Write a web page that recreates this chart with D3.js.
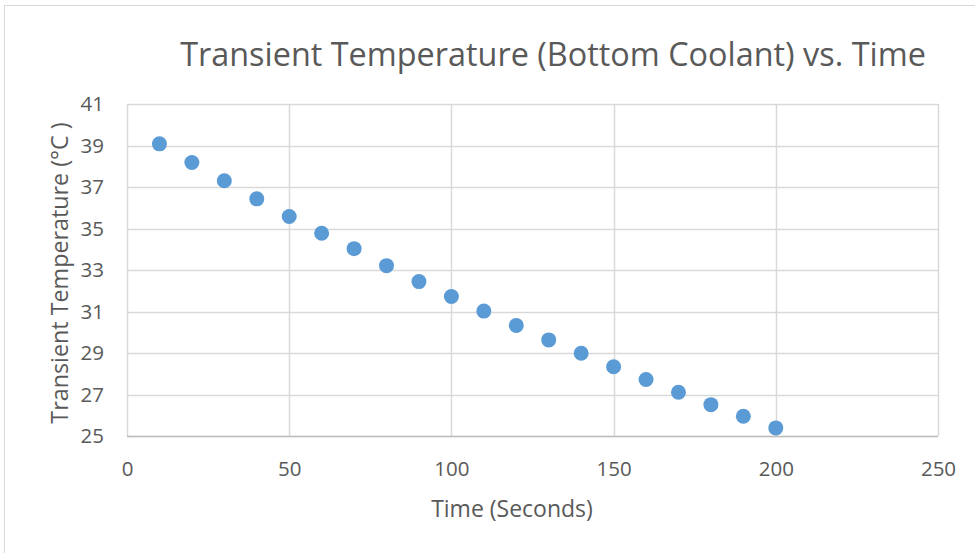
<!DOCTYPE html>
<html>
<head>
<meta charset="utf-8">
<script src="https://cdn.jsdelivr.net/npm/d3@7"></script>
<style>
  body { margin: 0; background: #fff; }
  svg text { font-family: "Open Sans", "Noto Sans", sans-serif; fill: #595959; }
</style>
</head>
<body>
<div id="chart"></div>
<script>
// time in seconds and measured temperature
var times = [10, 20, 30, 40, 50, 60, 70, 80, 90, 100, 110, 120, 130, 140, 150, 160, 170, 180, 190, 200];
var temps = [39.08, 38.18, 37.30, 36.43, 35.58, 34.77, 34.03, 33.21, 32.44, 31.72,
             31.02, 30.33, 29.63, 28.99, 28.34, 27.72, 27.11, 26.51, 25.95, 25.39];
var xTicks = [0, 50, 100, 150, 200, 250];
var yTicks = [25, 27, 29, 31, 33, 35, 37, 39, 41];

var width = 975, height = 553;
var margin = {top: 104, right: 37, bottom: 117, left: 127};

var svg = d3.select('#chart').append('svg')
  .attr('width', width)
  .attr('height', height);

// chart frame
svg.append('rect')
  .attr('x', 4.5).attr('y', 5.5)
  .attr('width', width + 10).attr('height', height + 10)
  .attr('fill', 'none').attr('stroke', '#d9d9d9');

var x = d3.scaleLinear().domain([0, 250]).range([margin.left, width - margin.right]);
var y = d3.scaleLinear().domain([25, 41]).range([height - margin.bottom, margin.top]);

// gridlines
svg.append('g')
  .selectAll('line')
  .data(yTicks)
  .enter().append('line')
    .attr('x1', x(0)).attr('x2', x(250))
    .attr('y1', function(d) { return Math.round(y(d)) + 0.5; })
    .attr('y2', function(d) { return Math.round(y(d)) + 0.5; })
    .attr('stroke', '#d9d9d9').attr('stroke-width', 1.5);

svg.append('g')
  .selectAll('line')
  .data(xTicks)
  .enter().append('line')
    .attr('y1', y(25)).attr('y2', y(41))
    .attr('x1', function(d) { return Math.round(x(d)) + 0.5; })
    .attr('x2', function(d) { return Math.round(x(d)) + 0.5; })
    .attr('stroke', '#d9d9d9').attr('stroke-width', 1.5);

// bottom axis line
svg.append('line')
  .attr('x1', x(0)).attr('x2', x(250))
  .attr('y1', Math.round(y(25)) + 0.5).attr('y2', Math.round(y(25)) + 0.5)
  .attr('stroke', '#bfbfbf').attr('stroke-width', 1.5);

// axes (labels only)
var xAxis = svg.append('g')
  .attr('transform', 'translate(0,' + y(25) + ')')
  .call(d3.axisBottom(x).tickValues(xTicks).tickSize(0).tickPadding(25));
var yAxis = svg.append('g')
  .attr('transform', 'translate(' + x(0) + ',0)')
  .call(d3.axisLeft(y).tickValues(yTicks).tickSize(0).tickPadding(23));

[xAxis, yAxis].forEach(function(a) {
  a.select('.domain').remove();
  a.selectAll('text')
    .style('font-size', '20.5px')
    .attr('fill', '#595959');
});

// points
svg.append('g')
  .selectAll('circle')
  .data(times)
  .enter().append('circle')
    .attr('cx', function(d) { return x(d); })
    .attr('cy', function(d, i) { return y(temps[i]); })
    .attr('r', 7.5)
    .attr('fill', '#5b9bd5');

// titles
svg.append('text')
  .attr('x', 553).attr('y', 66)
  .attr('text-anchor', 'middle')
  .style('font-size', '32.4px')
  .text('Transient Temperature (Bottom Coolant) vs. Time');

svg.append('text')
  .attr('x', 512).attr('y', 517)
  .attr('text-anchor', 'middle')
  .style('font-size', '23px')
  .text('Time (Seconds)');

svg.append('text')
  .attr('transform', 'translate(68,' + 273 + ') rotate(-90)')
  .attr('text-anchor', 'middle')
  .style('font-size', '23.3px')
  .text('Transient Temperature (°C )');
</script>
</body>
</html>
